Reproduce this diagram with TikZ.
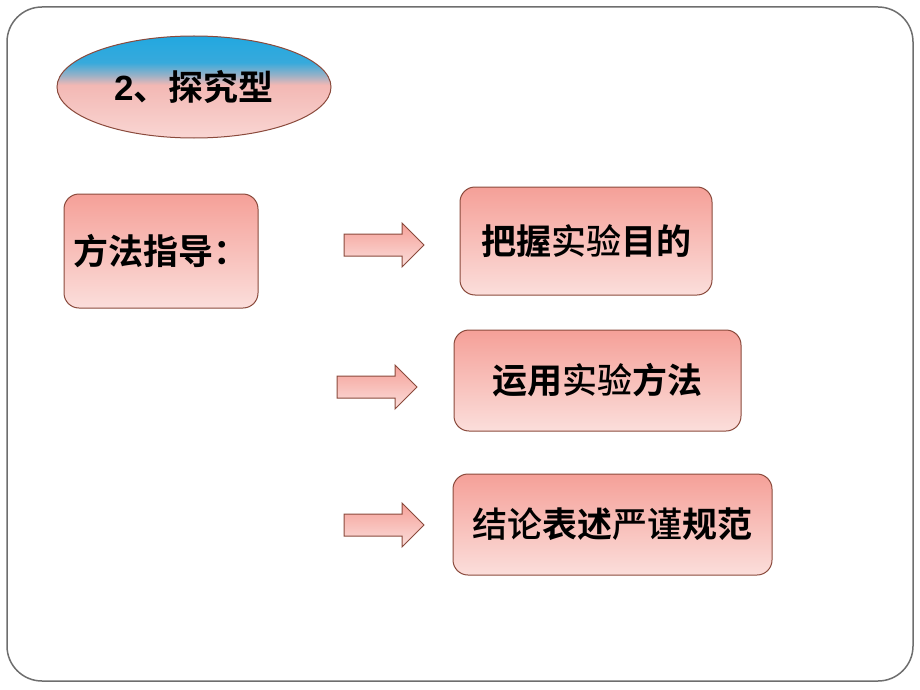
\documentclass[tikz,border=0pt]{standalone}
\usepackage{fontspec}
\setmainfont{Liberation Sans}
\newfontfamily\cjk{Noto Sans CJK SC Medium}[BoldFont={Noto Sans CJK SC Bold}]
\usetikzlibrary{shapes.geometric,shapes.arrows,shadings}
\definecolor{frameC}{HTML}{6E6E6E}
\definecolor{edgeC}{HTML}{8A4A3C}
\definecolor{boxTop}{HTML}{F5A098}
\definecolor{boxBot}{HTML}{FBDEDB}
\definecolor{ellBlue}{HTML}{22A8E0}
\definecolor{ellMid}{HTML}{F3B8B4}
\definecolor{ellBot}{HTML}{F9D6D3}
\pgfdeclareverticalshading{ellshade}{100bp}{color(0bp)=(ellBot); color(25bp)=(ellBot); color(51bp)=(ellMid); color(56bp)=(ellBlue!45!ellMid); color(62bp)=(ellBlue!90!ellMid); color(75bp)=(ellBlue); color(100bp)=(ellBlue)}
\newcommand{\B}[1]{{\bfseries #1}}
\begin{document}
\begin{tikzpicture}[x=1pt,y=-1pt,
  box/.style={draw=edgeC, line width=1pt, rounded corners=15pt, top color=boxTop, bottom color=boxBot, font=\cjk\fontsize{35}{40}\selectfont, inner sep=0pt},
  blockarrow/.style={single arrow, draw=edgeC, line width=1pt, top color=boxTop, bottom color=boxBot, minimum height=80pt, single arrow head extend=11pt, inner sep=10.5pt, shape border rotate=0}]
\useasboundingbox (0,0) rectangle (920,690);
\node[draw=frameC, line width=1.5pt, rounded corners=35pt, minimum width=906pt, minimum height=674pt, inner sep=0pt] (frame) at (460,344) {};
\node[ellipse, draw=edgeC, line width=1pt, shading=ellshade, minimum width=274pt, minimum height=102pt, inner sep=0pt, font=\fontsize{35}{40}\selectfont] (title) at (194,87) {\bfseries 2{\cjk 、探究型}};
\node[box, minimum width=194pt, minimum height=114pt] (m) at (161,251) {\B{方法指导：}};
\node[box, minimum width=252pt, minimum height=108pt] (b1) at (586,241) {\B{把握}实验\B{目的}};
\node[box, minimum width=287pt, minimum height=101pt] (b2) at (597.5,380.5) {\B{运用}实验\B{方法}};
\node[box, minimum width=319pt, minimum height=101pt] (b3) at (612.5,524.5) {结论\B{表述}严谨\B{规范}};
\node[blockarrow] (a1) at (378.5,245) {};
\node[blockarrow] (a2) at (371.5,387) {};
\node[blockarrow] (a3) at (378.5,525) {};
\end{tikzpicture}
\end{document}
